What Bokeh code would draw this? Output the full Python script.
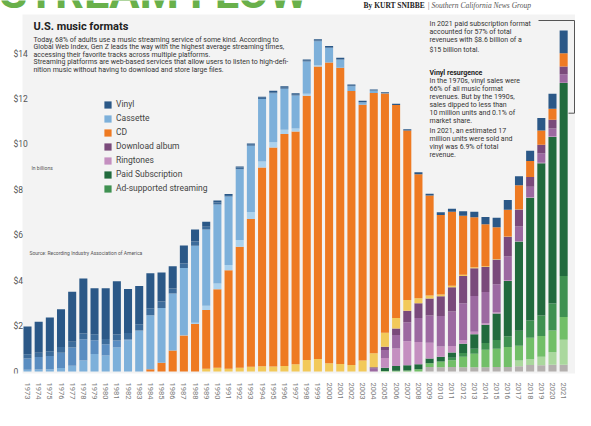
from bokeh.plotting import figure
from bokeh.models import (ColumnDataSource, Range1d, FixedTicker, Label, Legend, LegendItem,
                          BoxAnnotation)
from bokeh.embed import file_html
from bokeh.resources import INLINE

years = list(range(1973, 2022))

# revenue by format, billions of dollars
vinyl_lp = [1.22, 1.36, 1.49, 1.66, 2.20, 2.43, 2.03, 2.24, 2.34, 1.93,
            1.69, 1.55, 1.28, 0.98, 0.79, 0.53, 0.22, 0.09, 0.05, 0.05,
            0.05, 0.05, 0.06, 0.06, 0.06, 0.06, 0.06, 0.06, 0.06, 0.06,
            0.06, 0.05, 0.05, 0.05, 0.06, 0.08, 0.08, 0.12, 0.14, 0.20,
            0.24, 0.32, 0.42, 0.43, 0.40, 0.45, 0.55, 0.66, 1.00]
vinyl_single = [0.19, 0.19, 0.21, 0.25, 0.25, 0.25, 0.26, 0.23, 0.26, 0.28,
                0.27, 0.30, 0.28, 0.23, 0.20, 0.18, 0.12, 0.09, 0.06, 0.07,
                0.05, 0.05, 0.05, 0.05, 0.04, 0.03, 0.03, 0.03, 0.02, 0.02] + [0] * 19
eight_track = [0.49, 0.55, 0.58, 0.68, 0.81, 0.94, 0.61, 0.50, 0.31, 0.04] + [0] * 39
cassette = [0.08, 0.09, 0.10, 0.15, 0.25, 0.48, 0.77, 0.70, 1.06, 1.38,
            1.81, 2.38, 2.41, 2.50, 2.96, 3.39, 3.35, 3.47, 3.02, 3.12,
            2.92, 2.75, 2.15, 1.80, 1.45, 1.42, 1.06, 0.63, 0.36, 0.21,
            0.11, 0.11, 0.01] + [0] * 16
cassette_single = [0] * 14 + [0.01, 0.06, 0.19, 0.26, 0.23, 0.30,
                              0.30, 0.27, 0.24, 0.19, 0.13, 0.09, 0.05] + [0] * 22
cd = [0] * 11 + [0.10, 0.39, 0.93, 1.59, 2.09, 2.59, 3.45, 4.34, 5.33,
                 6.51, 8.75, 9.64, 10.22, 10.25, 11.63, 12.88, 13.25, 13.04, 12.06,
                 11.27, 11.46, 10.53, 9.38, 7.46, 5.47, 4.40, 3.50, 3.25, 2.60,
                 2.20, 1.85, 1.40, 1.17, 1.06, 0.70, 0.62, 0.48, 0.58]
music_video = [0] * 16 + [0.12, 0.17, 0.12, 0.16,
                          0.21, 0.23, 0.22, 0.24, 0.32, 0.51, 0.55, 0.36, 0.33, 0.29,
                          0.48, 0.61, 0.62, 0.47, 0.48, 0.22, 0.14, 0.08, 0.07, 0.05,
                          0.04, 0.03, 0.02, 0.02, 0.01] + [0] * 4
download_album = [0] * 31 + [0.05, 0.14, 0.28, 0.50, 0.64, 0.74, 0.87, 1.07, 1.20,
                             1.23, 1.10, 1.09, 0.87, 0.74, 0.43, 0.39, 0.39, 0.34]
download_single = [0] * 31 + [0.14, 0.36, 0.60, 0.84, 1.06, 1.20, 1.34, 1.52, 1.62,
                              1.57, 1.37, 1.23, 1.03, 0.64, 0.47, 0.41, 0.35, 0.37]
ringtones = [0] * 32 + [0.42, 0.77, 1.06, 0.98, 0.70, 0.45, 0.28, 0.17,
                        0.11, 0.07, 0.06, 0.04, 0.03, 0.02, 0.02, 0.02, 0.02]
paid_subscription = [0] * 32 + [0.15, 0.21, 0.23, 0.22, 0.21, 0.21, 0.24, 0.40,
                                0.64, 0.80, 1.16, 2.44, 3.93, 5.40, 6.70, 7.34, 8.50]
ad_supported = [0] * 38 + [0.11, 0.17, 0.22, 0.30, 0.39, 0.47, 0.66, 0.76, 0.91, 1.19, 1.80]
soundexchange = [0] * 32 + [0.02, 0.03, 0.04, 0.10, 0.16, 0.25, 0.29, 0.46,
                            0.59, 0.77, 0.80, 0.88, 0.65, 0.95, 0.91, 0.95, 1.00]
other_ad = [0] * 44 + [0.25, 0.25, 0.37, 0.55, 1.10]
synchronization = [0] * 36 + [0.20, 0.19, 0.20, 0.19, 0.19, 0.19, 0.20, 0.20,
                              0.23, 0.29, 0.28, 0.30, 0.30]

y_ticks = [0, 2, 4, 6, 8, 10, 12, 14]
y_tick_labels = ["0", "$2", "$4", "$6", "$8", "$10", "$12", "$14"]

# bottom -> top stacking order
series = ["synchronization", "other_ad", "soundexchange", "ad_supported", "paid_subscription",
          "ringtones", "download_single", "download_album", "music_video", "cd",
          "cassette_single", "cassette", "eight_track", "vinyl_single", "vinyl_lp"]
colors = ["#b4b0ae", "#aad89d", "#72bf68", "#3f9151", "#216a3d",
          "#c48fc0", "#9c69a1", "#7a4a7b", "#f2c95a", "#ee7a22",
          "#abd2ee", "#7db0da", "#5a8dc1", "#3d6c9b", "#2b5887"]

data = dict(year=years, vinyl_lp=vinyl_lp, vinyl_single=vinyl_single, eight_track=eight_track,
            cassette=cassette, cassette_single=cassette_single, cd=cd, music_video=music_video,
            download_album=download_album, download_single=download_single, ringtones=ringtones,
            paid_subscription=paid_subscription, ad_supported=ad_supported,
            soundexchange=soundexchange, other_ad=other_ad, synchronization=synchronization)
source = ColumnDataSource(data)

# layout helpers: canvas pixel -> data coordinates
X0, DX = 27.0, 11.17     # canvas x of the 1973 bar centre, bar pitch
Y0, DY = 371.0, 22.71    # canvas y of the zero line, pixels per $1 billion
W, H = 575, 410
FB = 373                 # frame bottom (x-axis labels below it)

def xd(px):
    return years[0] + (px - X0) / DX

def yd(py):
    return (Y0 - py) / DY

FONT = "Roboto"

p = figure(width=W, height=H, output_backend="svg", toolbar_location=None,
           x_range=Range1d(xd(0), xd(W)), y_range=Range1d(yd(FB), yd(0)),
           min_border_left=0, min_border_right=0, min_border_top=0,
           min_border_bottom=H - FB)
p.background_fill_color = "white"
p.border_fill_color = "white"
p.outline_line_color = None
p.xgrid.visible = False
p.ygrid.visible = False

# light grey panel behind the chart
p.add_layout(BoxAnnotation(left=xd(22), right=xd(W + 10), top=yd(14), bottom=yd(FB + 5),
                           fill_color="#f3f3f3", fill_alpha=1, line_color=None,
                           level="underlay"))

renderers = p.vbar_stack(series, x="year", width=0.72, source=source,
                         fill_color=colors, line_color=None)

# x axis
p.xaxis.ticker = FixedTicker(ticks=years)
p.xaxis.major_label_orientation = "vertical"
p.xaxis.major_label_text_font = FONT
p.xaxis.major_label_text_font_size = "7.5px"
p.xaxis.major_label_text_color = "#7a7a7a"
p.xaxis.major_label_standoff = 3
p.xaxis.axis_line_color = None
p.xaxis.major_tick_line_color = None
p.xaxis.minor_tick_line_color = None

# y axis: labels sit left-aligned over the panel edge, placed through the y scale
p.yaxis.visible = False
for t, l in zip(y_ticks, y_tick_labels):
    p.add_layout(Label(x=xd(13), y=t, text=l, text_font=FONT, text_font_size="8.5px",
                       text_color="#555555", text_align="left", text_baseline="middle"))

# legend
rmap = dict(zip(series, renderers))
legend_entries = [("Vinyl", "vinyl_lp"), ("Cassette", "cassette"), ("CD", "cd"),
                  ("Download album", "download_album"), ("Ringtones", "ringtones"),
                  ("Paid Subscription", "paid_subscription"),
                  ("Ad-supported streaming", "ad_supported")]
legend = Legend(items=[LegendItem(label=lbl, renderers=[rmap[k]]) for lbl, k in legend_entries],
                location=(103, FB - 193), orientation="vertical",
                background_fill_alpha=0, border_line_color=None,
                padding=0, margin=0, spacing=4, label_standoff=4,
                glyph_width=9, glyph_height=9, label_height=10,
                label_text_font=FONT, label_text_font_size="8.5px", label_text_color="#444444")
p.add_layout(legend)


def lab(x, y, text, size, color="#333333", style="normal", font=FONT):
    p.add_layout(Label(x=xd(x), y=yd(y), text=text, text_font=font,
                       text_font_size=f"{size}px", text_font_style=style,
                       text_color=color, text_align="left", text_baseline="middle"))


# masthead (mostly cut off at the top, as in the reference)
lab(-1, -8, "STREAM FLOW", 45, color="#69b04b", style="bold")
lab(363, 4.5, "By KURT SNIBBE", 7.5, color="#222222", style="bold", font="Liberation Serif")
lab(427, 4.5, "| Southern California News Group", 7.5, color="#555555", style="italic",
    font="Liberation Serif")

# title and intro
lab(33, 26, "U.S. music formats", 11, color="#222222", style="bold")
intro = ["Today, 68% of adults use a music streaming service of some kind. According to",
         "Global Web Index, Gen Z leads the way with the highest average streaming times,",
         "accessing their favorite tracks across multiple platforms.",
         "Streaming platforms are web-based services that allow users to listen to high-defi-",
         "nition music without having to download and store large files."]
for i, t in enumerate(intro):
    lab(33, 39 + 7.5 * i, t, 7)

lab(31, 167, "In billions", 5, color="#555555")
lab(29, 252, "Source: Recording Industry Association of America", 5, color="#555555")

# right-hand annotations
right1 = ["In 2021 paid subscription format", "accounted for 57% of total",
          "revenues with $8.6 billion of a", "$15 billion total."]
for i, t in enumerate(right1):
    lab(429, [23.3, 31.3, 39.3, 49.3][i], t, 7)
lab(429, 72, "Vinyl resurgence", 7, color="#222222", style="bold")
right2 = ["In the 1970s, vinyl sales were", "66% of all music format",
          "revenues. But by the 1990s,", "sales dipped to less than",
          "10 million units and 0.1% of", "market share."]
for i, t in enumerate(right2):
    lab(429, 80.3 + 8 * i, t, 7)
right3 = ["In 2021, an estimated 17", "million units were sold and",
          "vinyl was 6.9% of total", "revenue."]
for i, t in enumerate(right3):
    lab(429, 130 + 8 * i, t, 7)

# bracket pointing at the 2021 bar
p.line([xd(538), xd(574), xd(574), xd(568)], [yd(20), yd(20), yd(112.7), yd(112.7)],
       line_color="#555555", line_width=1)

# bottom text
lab(6, 399.5, "Headwaters of the stream", 6.8, color="#222222", style="bold")
lab(6, 406.5, "The basics of music streaming were laid in 2001 by peer-to-peer file sharing system", 6.8)
lab(303, 399.5, "Napster. Apple's iTunes followed a couple of years later. Spotify, in an attempt to combat", 6.7)
lab(303, 406.5, "music piracy, was founded in 2006 by Swedish duo Daniel Ek and Martin Lorentzon.", 6.7)

open("out.html", "w").write(file_html(p, INLINE))
